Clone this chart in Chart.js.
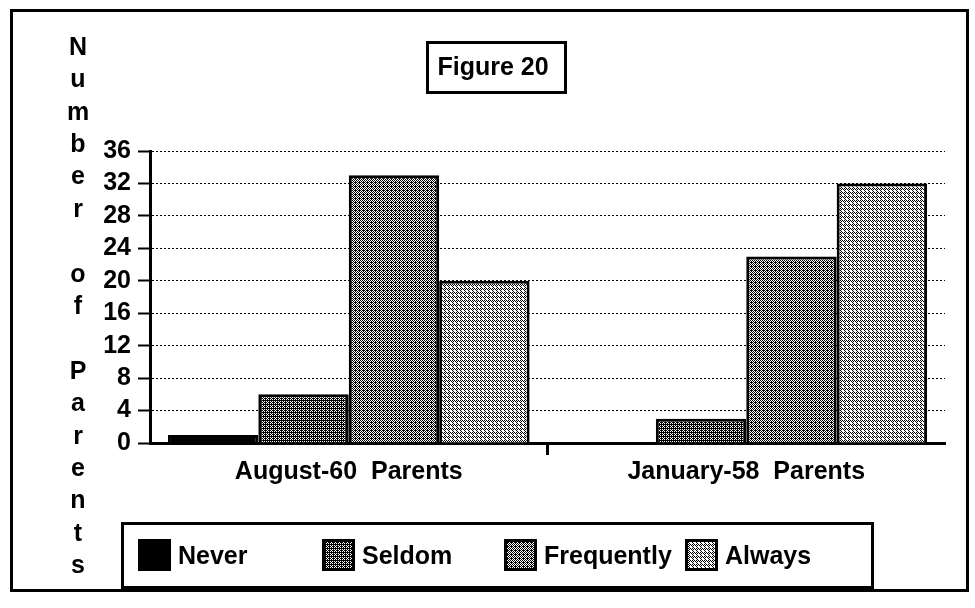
<!DOCTYPE html>
<html>
<head>
<meta charset="utf-8">
<script src="https://cdn.jsdelivr.net/npm/chart.js@4.4.1/dist/chart.umd.min.js"></script>
<style>
  html, body { margin: 0; padding: 0; background: #fff; }
  #wrap { width: 975px; height: 608px; }
</style>
</head>
<body>
<div id="wrap"><canvas id="myChart"></canvas></div>
<script>
// Datos de la figura
var categorias = ['August-60  Parents', 'January-58  Parents'];
var nombresSeries = ['Never', 'Seldom', 'Frequently', 'Always'];
var never = [1, 0];
var seldom = [6, 3];
var frequently = [33, 23];
var always = [20, 32];
var marcasY = [0, 4, 8, 12, 16, 20, 24, 28, 32, 36];
var tituloFigura = 'Figure 20';
var tituloEjeY = 'Number of Parents';

var fuente = '"Liberation Sans", Arial, sans-serif';

// Crear una trama de puntos (tile de 4x4) para rellenar las barras
function trama(negros) {
  var c = document.createElement('canvas');
  c.width = 4; c.height = 4;
  var g = c.getContext('2d');
  g.fillStyle = '#fff';
  g.fillRect(0, 0, 4, 4);
  g.fillStyle = '#000';
  for (var i = 0; i < negros.length; i++) {
    g.fillRect(negros[i][0], negros[i][1], 1, 1);
  }
  return g.createPattern(c, 'repeat');
}

var ajedrez = [[0, 0], [2, 0], [1, 1], [3, 1], [0, 2], [2, 2], [1, 3], [3, 3]];
var rellenos = [
  '#000',
  trama(ajedrez.concat([[1, 0], [3, 0], [1, 2]])),
  trama(ajedrez.concat([[3, 2]])),
  trama([[0, 0], [2, 0], [1, 1], [3, 1], [0, 2], [1, 3]])
];
var valores = [never, seldom, frequently, always];

var datasets = [];
for (var i = 0; i < nombresSeries.length; i++) {
  datasets.push({
    label: nombresSeries[i],
    data: valores[i],
    backgroundColor: rellenos[i],
    borderColor: '#000',
    borderWidth: 3,
    borderSkipped: 'bottom',
    categoryPercentage: 0.91,
    barPercentage: 1
  });
}

// Titulo con marco, eje Y en letras sueltas, leyenda con marco y borde exterior
var decoracion = {
  id: 'decoracion',
  beforeDraw: function(chart) {
    var c = chart.ctx;
    c.save();
    c.fillStyle = '#fff';
    c.fillRect(0, 0, chart.width, chart.height);
    c.restore();
  },
  afterDraw: function(chart) {
    var c = chart.ctx;
    c.save();
    c.strokeStyle = '#000';
    c.fillStyle = '#000';
    c.lineWidth = 3;
    c.strokeRect(11.5, 10.5, 956, 580);

    // titulo
    c.font = 'bold 25px ' + fuente;
    c.textAlign = 'center';
    c.textBaseline = 'middle';
    c.fillText(tituloFigura, 493, 68);
    c.strokeRect(427.5, 42.5, 138, 50);

    // letras del eje Y
    var letras = tituloEjeY.split('');
    for (var i = 0; i < letras.length; i++) {
      c.fillText(letras[i], 78, 48 + 32.4 * i);
    }

    // leyenda
    c.strokeRect(122.5, 523.5, 750, 64);
    var xs = [138, 322, 504, 685];
    c.textAlign = 'left';
    var ds = chart.data.datasets;
    for (var j = 0; j < ds.length; j++) {
      c.fillStyle = ds[j].backgroundColor;
      c.fillRect(xs[j], 539, 33, 32);
      c.lineWidth = 3;
      c.strokeRect(xs[j] + 1.5, 540.5, 30, 29);
      c.fillStyle = '#000';
      c.fillText(ds[j].label, xs[j] + 40, 557);
    }
    c.restore();
  }
};

var ctx = document.getElementById('myChart').getContext('2d');
var myChart = new Chart(ctx, {
  type: 'bar',
  data: {
    labels: categorias,
    datasets: datasets
  },
  options: {
    responsive: true,
    maintainAspectRatio: false,
    animation: false,
    layout: { padding: { top: 151, left: 0, right: 30, bottom: 110 } },
    plugins: {
      legend: { display: false },
      title: { display: false },
      tooltip: { enabled: false }
    },
    scales: {
      x: {
        afterFit: function(s) { s.height = 55; },
        grid: {
          offset: true,
          drawOnChartArea: false,
          tickLength: 12,
          tickWidth: 3,
          tickColor: function(c) { return c.index === 1 ? '#000' : 'rgba(0,0,0,0)'; },
          color: '#000'
        },
        border: { color: '#000', width: 3 },
        ticks: {
          color: '#000',
          padding: 2,
          font: { family: fuente, size: 25, weight: 'bold' }
        }
      },
      y: {
        min: 0,
        max: 36,
        afterFit: function(s) { s.width = 150; },
        afterBuildTicks: function(s) {
          s.ticks = marcasY.map(function(v) { return { value: v }; });
        },
        grid: {
          color: '#000',
          lineWidth: 1,
          tickLength: 12,
          tickWidth: 2,
          tickColor: '#000',
          tickBorderDash: []
        },
        border: { color: '#000', width: 3, dash: [2, 2] },
        ticks: {
          autoSkip: false,
          color: '#000',
          padding: 7,
          font: { family: fuente, size: 25, weight: 'bold' }
        }
      }
    }
  },
  plugins: [decoracion]
});
</script>
</body>
</html>
